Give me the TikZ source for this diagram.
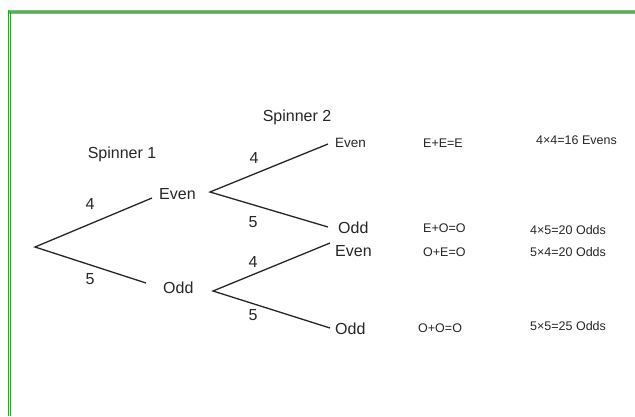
\documentclass[tikz,border=0pt]{standalone}
\usepackage{fontspec}
\setmainfont{Liberation Sans}
\definecolor{gdark}{RGB}{45,165,45}
\definecolor{glight}{RGB}{120,195,120}
\definecolor{gmid}{RGB}{90,175,90}
\begin{document}
\begin{tikzpicture}[x=1pt,y=-1pt,
  branch/.style={line width=1.3pt, black!85},
  big/.style={font=\fontsize{16}{18}\selectfont, inner sep=0pt, text=black!85},
  mid/.style={font=\fontsize{13.5}{16}\selectfont, inner sep=0pt, text=black!85},
  small/.style={font=\fontsize{12.5}{15}\selectfont, inner sep=0pt, text=black!85}]
\useasboundingbox (0,0) rectangle (635,416);
\fill[white] (0,0) rectangle (635,416);
% green frame
\fill[glight] (8,10) rectangle (635,14);
\draw[gmid, line width=2pt] (8,12) -- (635,12);
\draw[gdark, line width=1pt] (8.5,10) -- (8.5,416);
\draw[gdark, line width=1pt] (10.5,12) -- (10.5,416);
% branch points
\coordinate (r1) at (35,247);
\coordinate (e1) at (152,198);
\coordinate (o1) at (146,283);
\coordinate (r2) at (210,192);
\coordinate (e2) at (328,144);
\coordinate (o2) at (328,227);
\coordinate (r3) at (213,291);
\coordinate (e3) at (330,243);
\coordinate (o3) at (330,328);
\draw[branch] (e1) -- (r1) -- (o1);
\draw[branch] (e2) -- (r2) -- (o2);
\draw[branch] (e3) -- (r3) -- (o3);
% headings
\node[big] (sp1) at (122,154) {Spinner 1};
\node[big] (sp2) at (297,117) {Spinner 2};
% first stage
\node[big, anchor=west] (even1) at (159,194) {Even};
\node[big, anchor=west] (odd1) at (163,288) {Odd};
\node[big] (l14) at (90,204) {4};
\node[big] (l15) at (90,279) {5};
% second stage
\node[big] (l24) at (254,158) {4};
\node[big] (l25) at (253,222) {5};
\node[big] (l34) at (253,262) {4};
\node[big] (l35) at (253,315) {5};
\node[mid, anchor=west] (even2) at (335,143) {Even};
\node[big, anchor=west] (odd2) at (338,228) {Odd};
\node[big, anchor=west] (even3) at (335,251) {Even};
\node[big, anchor=west] (odd3) at (335,329) {Odd};
% sums
\node[small, anchor=west] (s1) at (423,143) {E+E=E};
\node[small, anchor=west] (s2) at (423,228) {E+O=O};
\node[small, anchor=west] (s3) at (423,252) {O+E=O};
\node[small, anchor=west] (s4) at (418,328) {O+O=O};
% products
\node[small, anchor=west] (p1) at (536,140) {4×4=16 Evens};
\node[small, anchor=west] (p2) at (530,230) {4×5=20 Odds};
\node[small, anchor=west] (p3) at (530,252) {5×4=20 Odds};
\node[small, anchor=west] (p4) at (530,326) {5×5=25 Odds};
\end{tikzpicture}
\end{document}
